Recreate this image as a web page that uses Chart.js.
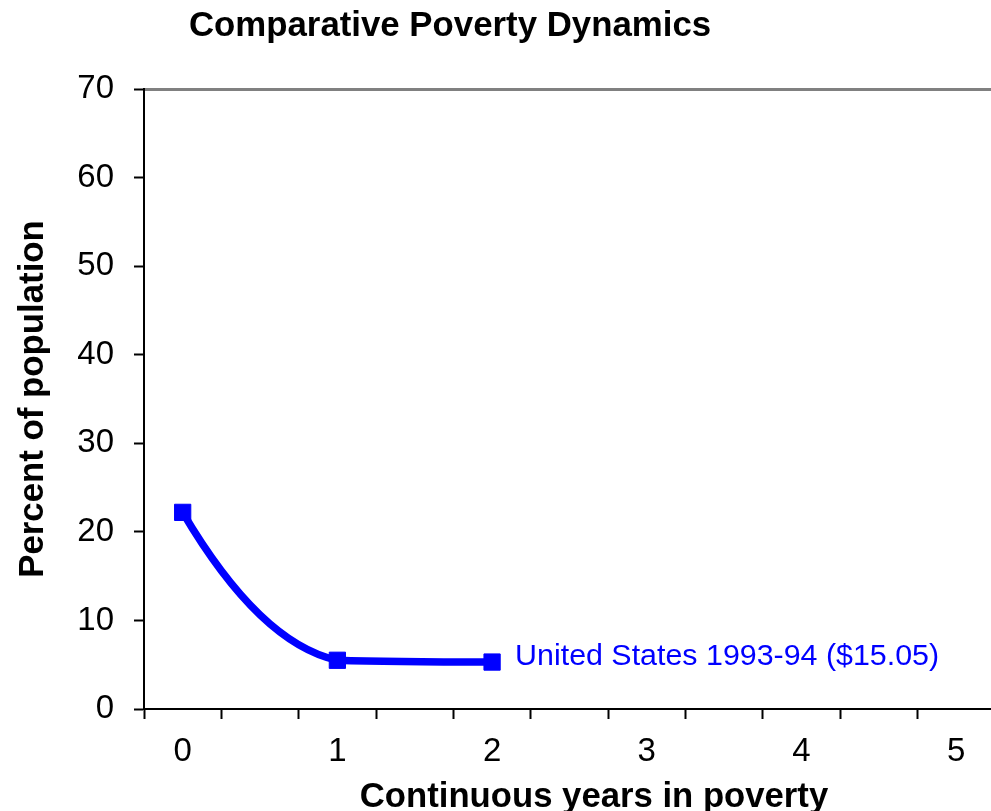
<!DOCTYPE html>
<html>
<head>
<meta charset="utf-8">
<title>Comparative Poverty Dynamics</title>
<script src="https://cdn.jsdelivr.net/npm/chart.js@4.4.1/dist/chart.umd.min.js"></script>
<style>
  html, body { margin: 0; padding: 0; background: #ffffff; }
  canvas { display: block; }
</style>
</head>
<body>
<canvas id="chart" width="991" height="811"></canvas>
<script>
// ---- chart data -------------------------------------------------------
const chartTitle = 'Comparative Poverty Dynamics';
const xAxisTitle = 'Continuous years in poverty';
const yAxisTitle = 'Percent of population';
const seriesName = 'United States 1993-94 ($15.05)';

const yearsInPoverty = [0, 1, 2];
const percentInPoverty = [22.2, 5.5, 5.3];

const xTickLabels = [0, 1, 2, 3, 4, 5];
const xTickMarks = [-0.25, 0.25, 0.75, 1.25, 1.75, 2.25, 2.75, 3.25, 3.75, 4.25, 4.75];
const yTickValues = [0, 10, 20, 30, 40, 50, 60, 70];

// ---- styling ----------------------------------------------------------
const FONT = '"Liberation Sans", Arial, Helvetica, sans-serif';
const SERIES_BLUE = '#0000FF';
const X_MIN = -0.25;
const X_MAX = 5.225;

Chart.defaults.font.family = FONT;
Chart.defaults.color = '#000000';

// Smoothed line: interior slopes are a damped average of the neighbouring
// chords (clamped so flat runs stay flat), ends use a parabolic run-out.
const SMOOTHING = 0.45;
const smoothLine = {
  id: 'smoothLine',
  beforeDatasetDraw(chart, args) {
    const meta = args.meta;
    const line = meta.dataset;
    if (!line || meta.type !== 'line') return;
    if (typeof line.updateControlPoints === 'function') {
      line.updateControlPoints(chart.chartArea, meta.indexAxis);
    }
    const pts = meta.data;
    const n = pts.length;
    if (n < 3) return;
    const chord = [];
    for (let i = 0; i < n - 1; i++) {
      chord.push((pts[i + 1].y - pts[i].y) / (pts[i + 1].x - pts[i].x));
    }
    const m = new Array(n);
    for (let i = 1; i < n - 1; i++) m[i] = SMOOTHING * (chord[i - 1] + chord[i]) / 2;
    m[0] = 2 * chord[0] - m[1];
    m[n - 1] = 2 * chord[n - 2] - m[n - 2];
    const clamp = (s, c) => {
      if (c === 0 || Math.sign(s) !== Math.sign(c)) return 0;
      return Math.abs(s) > 3 * Math.abs(c) ? 3 * c : s;
    };
    for (let i = 0; i < n; i++) {
      const p = pts[i];
      const inSlope = i > 0 ? clamp(m[i], chord[i - 1]) : m[i];
      const outSlope = i < n - 1 ? clamp(m[i], chord[i]) : m[i];
      const hl = i > 0 ? (p.x - pts[i - 1].x) / 3 : 0;
      const hr = i < n - 1 ? (pts[i + 1].x - p.x) / 3 : 0;
      p.cp1x = p.x - hl; p.cp1y = p.y - inSlope * hl;
      p.cp2x = p.x + hr; p.cp2y = p.y + outSlope * hr;
    }
    line._path = undefined;
  }
};

// Series name written beside the last point of the line.
const seriesLabel = {
  id: 'seriesLabel',
  afterDatasetsDraw(chart) {
    const meta = chart.getDatasetMeta(0);
    const last = meta.data[meta.data.length - 1];
    if (!last) return;
    const ctx = chart.ctx;
    ctx.save();
    ctx.font = `30.4px ${FONT}`;
    ctx.fillStyle = SERIES_BLUE;
    ctx.textAlign = 'left';
    ctx.textBaseline = 'middle';
    ctx.fillText(chart.data.datasets[0].label, last.x + 23, last.y - 5);
    ctx.restore();
  }
};

// Heading above the plot and the horizontal axis caption.
const captions = {
  id: 'captions',
  afterDraw(chart) {
    const ctx = chart.ctx;
    ctx.save();
    ctx.fillStyle = '#000000';
    ctx.textAlign = 'center';
    ctx.textBaseline = 'alphabetic';
    ctx.font = `bold 34.8px ${FONT}`;
    ctx.fillText(chartTitle, 450, 36);
    ctx.font = `bold 34.7px ${FONT}`;
    ctx.fillText(xAxisTitle, 594, 807);
    ctx.restore();
  }
};

new Chart(document.getElementById('chart'), {
  type: 'line',
  data: {
    datasets: [{
      label: seriesName,
      data: yearsInPoverty.map((x, i) => ({ x: x, y: percentInPoverty[i] })),
      borderColor: SERIES_BLUE,
      backgroundColor: SERIES_BLUE,
      borderWidth: 7.5,
      tension: 0.4,
      fill: false,
      pointStyle: 'rect',
      pointRadius: 11.5,
      pointBorderWidth: 1,
      pointBackgroundColor: SERIES_BLUE,
      pointBorderColor: SERIES_BLUE,
      clip: false
    }]
  },
  options: {
    responsive: false,
    animation: false,
    events: [],
    layout: { autoPadding: false, padding: { top: 89, left: 0, right: 0, bottom: 0 } },
    plugins: {
      legend: { display: false },
      tooltip: { enabled: false },
      title: { display: false }
    },
    scales: {
      x: {
        type: 'linear',
        position: 'bottom',
        min: X_MIN,
        max: X_MAX,
        afterBuildTicks: s => { s.ticks = xTickLabels.map(v => ({ value: v })); },
        afterFit: s => { s.height = 102; s.paddingLeft = 0; s.paddingRight = 0; },
        ticks: {
          font: { size: 33 },
          color: '#000000',
          padding: 23,
          maxRotation: 0,
          autoSkip: false
        },
        grid: { display: true, drawOnChartArea: false, drawTicks: false },
        border: { display: true, color: '#000000', width: 2 },
        title: { display: false }
      },
      xMarks: {
        type: 'linear',
        axis: 'x',
        position: { y: 0 },
        min: X_MIN,
        max: X_MAX,
        afterBuildTicks: s => { s.ticks = xTickMarks.map(v => ({ value: v })); },
        afterFit: s => { s.paddingLeft = 0; s.paddingRight = 0; },
        ticks: { display: false },
        grid: {
          display: true,
          drawOnChartArea: false,
          drawTicks: true,
          tickLength: 10,
          tickColor: '#000000',
          tickWidth: 2
        },
        border: { display: false }
      },
      xTop: {
        type: 'linear',
        axis: 'x',
        position: 'top',
        min: X_MIN,
        max: X_MAX,
        afterFit: s => { s.height = 0; s.paddingLeft = 0; s.paddingRight = 0; },
        ticks: { display: false },
        grid: { display: false, drawTicks: false },
        border: { display: true, color: '#808080', width: 3 }
      },
      y: {
        type: 'linear',
        position: 'left',
        min: 0,
        max: 70,
        afterBuildTicks: s => { s.ticks = yTickValues.map(v => ({ value: v })); },
        afterFit: s => { s.width = 144; },
        ticks: {
          font: { size: 33 },
          color: '#000000',
          padding: 20
        },
        grid: {
          display: true,
          drawOnChartArea: false,
          drawTicks: true,
          tickLength: 10,
          tickColor: '#000000',
          tickWidth: 2
        },
        border: { display: true, color: '#000000', width: 2 },
        title: {
          display: true,
          text: yAxisTitle,
          color: '#000000',
          font: { size: 34.8, weight: 'bold', lineHeight: 0.85 },
          padding: { top: 18.3, bottom: 0 }
        }
      }
    }
  },
  plugins: [smoothLine, seriesLabel, captions]
});
</script>
</body>
</html>
